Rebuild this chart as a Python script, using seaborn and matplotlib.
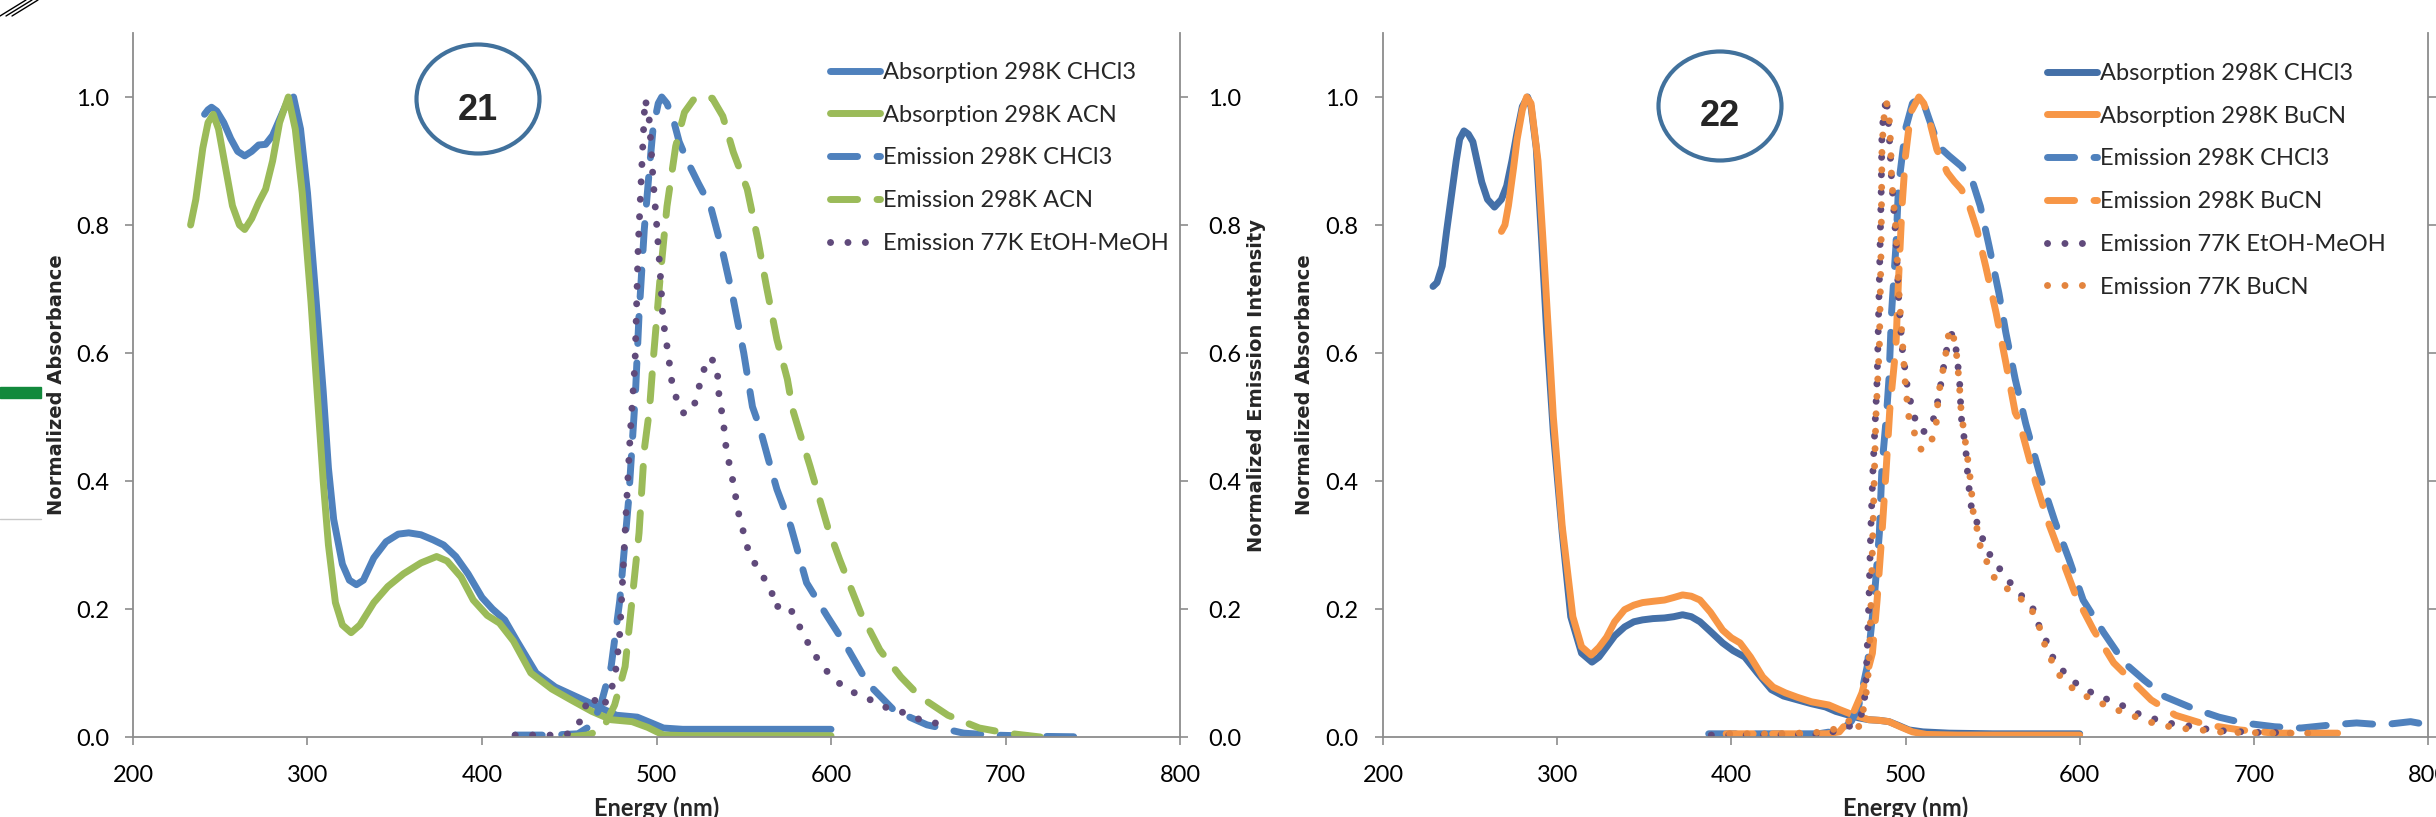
import matplotlib
matplotlib.use("Agg")
import matplotlib.pyplot as plt
import seaborn as sns
from matplotlib.patches import Ellipse, Rectangle
from matplotlib.lines import Line2D
from matplotlib.ticker import FormatStrFormatter

# ---------------- data ----------------
# panel 21
abs_chcl3_21_nm = [241, 243, 245, 248, 252, 256, 260, 264, 268, 272, 276, 280, 284, 288, 292, 296, 300, 305, 309, 312,
                   315, 320, 324, 328, 332, 338, 345, 352, 358, 365, 372, 378, 385, 392, 400, 406, 413, 420, 431, 442,
                   454, 466, 477, 489, 497, 504, 515, 540, 570, 600]
abs_chcl3_21 = [0.973, 0.98, 0.984, 0.978, 0.96, 0.935, 0.915, 0.908, 0.915, 0.925, 0.926, 0.94, 0.965, 0.99, 1.0, 0.95,
                0.85, 0.68, 0.54, 0.42, 0.34, 0.27, 0.245, 0.238, 0.245, 0.28, 0.305, 0.317, 0.319, 0.316, 0.308, 0.30,
                0.282, 0.255, 0.218, 0.20, 0.183, 0.15, 0.10, 0.078, 0.063, 0.048, 0.034, 0.031, 0.022, 0.014, 0.012,
                0.012, 0.012, 0.012]

abs_acn_21_nm = [233, 236, 240, 243, 246, 249, 253, 257, 261, 264, 268, 272, 276, 280, 284, 289, 293, 297, 302, 306,
                 309, 312, 316, 320, 325, 330, 338, 346, 355, 365, 374, 380, 388, 395, 403, 410, 418, 428, 440, 451,
                 463, 474, 486, 495, 504, 520, 560, 600]
abs_acn_21 = [0.80, 0.84, 0.92, 0.96, 0.973, 0.95, 0.89, 0.83, 0.80, 0.793, 0.81, 0.835, 0.856, 0.90, 0.96, 1.0, 0.95,
              0.85, 0.68, 0.52, 0.40, 0.30, 0.21, 0.175, 0.163, 0.175, 0.21, 0.235, 0.255, 0.272, 0.282, 0.275, 0.25,
              0.214, 0.19, 0.178, 0.15, 0.10, 0.075, 0.058, 0.04, 0.027, 0.024, 0.015, 0.003, 0.002, 0.002, 0.002]

em_chcl3_21_nm = [419, 440, 455, 463, 468, 474, 479, 484, 488, 490, 493, 496, 498, 501, 503, 506, 510, 513, 518, 524,
                  531, 538, 544, 550, 555, 559, 564, 569, 577, 586, 598, 609, 621, 636, 655, 676, 693, 720, 750]
em_chcl3_21 = [0.003, 0.003, 0.005, 0.019, 0.05, 0.11, 0.214, 0.37, 0.54, 0.66, 0.793, 0.89, 0.95, 0.99, 1.0, 0.99,
               0.961, 0.93, 0.898, 0.865, 0.829, 0.757, 0.684, 0.60, 0.516, 0.485, 0.435, 0.387, 0.329, 0.241, 0.188,
               0.141, 0.084, 0.042, 0.019, 0.006, 0.003, 0.001, 0.0]

em_acn_21_nm = [448, 460, 469, 476, 482, 486, 490, 493, 496, 498, 502, 506, 511, 516, 521, 523, 528, 532, 538, 544,
                552, 558, 563, 569, 575, 578, 582, 588, 598, 605, 617, 628, 640, 651, 667, 685, 701, 720]
em_acn_21 = [0.0, 0.003, 0.011, 0.05, 0.11, 0.214, 0.319, 0.449, 0.512, 0.585, 0.715, 0.829, 0.923, 0.976, 0.995, 1.0,
             1.0, 0.998, 0.97, 0.914, 0.856, 0.778, 0.704, 0.621, 0.559, 0.512, 0.476, 0.423, 0.329, 0.277, 0.194,
             0.136, 0.094, 0.063, 0.034, 0.014, 0.006, 0.0]

em_77k_21_nm = [419, 430, 440, 450, 457, 461, 464, 467.6, 471, 474.5, 477, 479, 482, 485, 487.7, 489.5, 491.7, 493.4,
                495, 496, 498, 500, 502, 503.7, 506.6, 509, 512, 516, 519, 522, 526.6, 530, 532.5, 534.7, 536, 538,
                540, 544, 547, 552, 555, 560, 566, 568, 572.5, 577.6, 581, 585, 589, 593.7, 599.4, 606, 612.6, 620.6,
                628, 635.5, 643.6, 651, 659.6, 668]
em_77k_21 = [0.003, 0.003, 0.003, 0.005, 0.027, 0.063, 0.06, 0.045, 0.055, 0.078, 0.11, 0.163, 0.32, 0.476, 0.585,
             0.767, 0.898, 0.997, 0.98, 0.961, 0.872, 0.804, 0.731, 0.653, 0.60, 0.551, 0.524, 0.504, 0.51, 0.522,
             0.57, 0.593, 0.588, 0.577, 0.527, 0.50, 0.449, 0.397, 0.35, 0.297, 0.277, 0.256, 0.227, 0.202, 0.208,
             0.196, 0.178, 0.156, 0.136, 0.116, 0.097, 0.081, 0.07, 0.061, 0.05, 0.042, 0.037, 0.027, 0.022, 0.016]

# panel 22
abs_chcl3_22_nm = [228.7, 231, 234, 236.5, 239, 242, 244, 246.5, 249, 251.6, 254, 256.7, 260, 264, 268, 271, 274, 277,
                   280, 283, 285, 288, 291, 294, 297.8, 302.9, 307.8, 314, 320, 324, 328.4, 333, 338.7, 344, 349, 355,
                   361.6, 367, 372, 377, 382, 388, 395, 401, 407.7, 415, 423, 430, 438, 446, 454, 460, 467.6, 473,
                   479, 485, 490.5, 496, 502, 510, 525, 550, 575, 600]
abs_chcl3_22 = [0.704, 0.71, 0.736, 0.79, 0.84, 0.90, 0.934, 0.947, 0.942, 0.93, 0.90, 0.867, 0.84, 0.828, 0.84, 0.861,
                0.90, 0.945, 0.985, 1.0, 0.985, 0.92, 0.78, 0.632, 0.476, 0.319, 0.188, 0.131, 0.117, 0.125, 0.141,
                0.158, 0.172, 0.18, 0.183, 0.185, 0.186, 0.188, 0.191, 0.188, 0.18, 0.165, 0.147, 0.135, 0.125, 0.10,
                0.074, 0.064, 0.058, 0.052, 0.047, 0.04, 0.034, 0.03, 0.027, 0.026, 0.024, 0.018, 0.011, 0.008, 0.006,
                0.005, 0.005, 0.005]

abs_bucn_22_nm = [268, 270, 272, 275, 277, 280, 282.5, 285, 289, 292, 295, 297.8, 302.9, 309, 314, 319.5, 324, 328.4,
                  333, 338.7, 344, 349, 355, 361.6, 367, 372, 377, 382, 388, 395, 400, 405, 411, 418, 424, 431, 438,
                  446, 456, 462, 467.6, 473, 479, 485, 490.5, 497, 504, 512, 530, 560, 600]
abs_bucn_22 = [0.79, 0.80, 0.83, 0.89, 0.934, 0.98, 1.0, 0.99, 0.90, 0.77, 0.632, 0.50, 0.329, 0.188, 0.141, 0.128,
               0.14, 0.156, 0.18, 0.199, 0.206, 0.21, 0.212, 0.214, 0.218, 0.222, 0.22, 0.214, 0.195, 0.167, 0.155,
               0.147, 0.125, 0.094, 0.078, 0.069, 0.062, 0.055, 0.05, 0.043, 0.037, 0.032, 0.027, 0.026, 0.024,
               0.016, 0.008, 0.004, 0.003, 0.003, 0.003]

em_chcl3_22_nm = [387, 420, 450, 463.6, 469, 473, 478, 482, 485, 486.5, 489, 490.5, 492, 494.5, 496, 500, 504, 507.7,
                  510.5, 513.5, 519, 525, 532, 538, 543, 548, 553.6, 557.6, 563, 569, 578.5, 586, 594, 602, 613.8,
                  625.6, 637, 649, 664.8, 680, 694, 712, 727, 745, 759, 774, 790, 800]
em_chcl3_22 = [0.005, 0.005, 0.005, 0.011, 0.025, 0.047, 0.11, 0.214, 0.319, 0.423, 0.50, 0.559, 0.663, 0.767, 0.861,
               0.95, 0.99, 1.0, 0.99, 0.966, 0.923, 0.908, 0.892, 0.872, 0.829, 0.767, 0.694, 0.632, 0.559, 0.49,
               0.397, 0.335, 0.277, 0.214, 0.163, 0.116, 0.089, 0.063, 0.045, 0.031, 0.022, 0.016, 0.014, 0.019,
               0.022, 0.019, 0.024, 0.019]

em_bucn_22_nm = [397, 430, 455, 462, 469, 475, 481, 483.7, 486.5, 489, 491, 494.5, 496, 498, 500, 503, 507.7, 510.5,
                 513.5, 518, 524, 528, 532, 536, 541, 546, 552, 557.6, 563, 565, 574.8, 582, 590, 598, 608, 619.5,
                 629.5, 641, 655, 673, 692, 712, 749]
em_bucn_22 = [0.005, 0.005, 0.005, 0.008, 0.031, 0.069, 0.131, 0.214, 0.319, 0.423, 0.512, 0.61, 0.715, 0.829, 0.908,
              0.976, 1.0, 0.99, 0.966, 0.918, 0.882, 0.868, 0.856, 0.835, 0.793, 0.736, 0.663, 0.585, 0.507, 0.496,
              0.397, 0.335, 0.277, 0.219, 0.167, 0.116, 0.089, 0.058, 0.034, 0.019, 0.011, 0.006, 0.006]

em_77k_22_nm = [388.5, 420, 450, 463.6, 471.6, 475, 477, 478, 479, 480, 481.4, 483, 483.7, 485, 486, 486.5, 489, 490.5,
                492, 494.5, 496, 498, 501, 504, 506, 509.5, 512, 515, 519, 522, 525, 527, 529, 531, 532, 534.6, 536,
                538, 542, 545, 549, 552, 557, 563, 568.7, 573.6, 576.5, 580.5, 584.5, 589, 595, 602, 609, 616.6,
                624.6, 633, 641, 650, 659, 669, 676.5, 685, 694, 704, 715]
em_77k_22 = [0.003, 0.003, 0.004, 0.011, 0.022, 0.037, 0.069, 0.136, 0.214, 0.319, 0.423, 0.516, 0.559, 0.715, 0.845,
             0.95, 1.0, 0.95, 0.872, 0.778, 0.689, 0.61, 0.548, 0.51, 0.493, 0.477, 0.478, 0.485, 0.53, 0.58, 0.626,
             0.63, 0.606, 0.559, 0.50, 0.449, 0.40, 0.355, 0.329, 0.304, 0.282, 0.272, 0.25, 0.233, 0.214, 0.199,
             0.175, 0.152, 0.125, 0.108, 0.089, 0.077, 0.066, 0.058, 0.049, 0.037, 0.03, 0.022, 0.019, 0.014, 0.011,
             0.009, 0.008, 0.007, 0.007]

em_77k_bucn_22_nm = [399, 430, 456, 463.6, 466, 470, 473, 476, 477, 479, 480, 481, 482, 483, 485, 486, 486.5, 488, 489,
                     490.5, 491.5, 492, 494.5, 496, 498, 500, 502, 505, 509, 512, 514.6, 517.5, 519, 521, 522, 524,
                     525, 527, 529, 530, 531, 532, 535, 537.5, 539, 541.5, 543, 547, 551, 557, 564, 570, 575, 578,
                     580.5, 584.5, 589, 595, 602, 610, 617.8, 626, 634, 642, 652, 660.7, 669.7, 679, 688, 698, 707,
                     717, 733]
em_77k_bucn_22 = [0.005, 0.005, 0.008, 0.019, 0.022, 0.03, 0.015, 0.045, 0.058, 0.11, 0.188, 0.293, 0.397, 0.50, 0.61,
                  0.767, 0.923, 0.98, 0.992, 0.976, 0.923, 0.872, 0.793, 0.704, 0.626, 0.548, 0.499, 0.476, 0.449,
                  0.45, 0.46, 0.485, 0.538, 0.562, 0.585, 0.61, 0.637, 0.632, 0.606, 0.579, 0.548, 0.507, 0.449,
                  0.397, 0.347, 0.321, 0.297, 0.272, 0.249, 0.235, 0.219, 0.21, 0.186, 0.163, 0.139, 0.116, 0.094,
                  0.078, 0.066, 0.055, 0.047, 0.037, 0.03, 0.022, 0.016, 0.013, 0.011, 0.008, 0.007, 0.007, 0.006,
                  0.006, 0.006]

x_ticks = [200, 300, 400, 500, 600, 700, 800]
y_ticks = [0.0, 0.2, 0.4, 0.6, 0.8, 1.0]

# ---------------- style ----------------
sns.set_theme(style="white")
plt.rcParams["font.family"] = ["Lato", "DejaVu Sans"]

BLUE = "#4F81BD"
DKBLUE = "#4470A8"
GREEN = "#9BBB59"
PURPLE = "#604A7B"
ORANGE = "#F79646"
DKORANGE = "#E3843E"
GRAY = "#8C8C8C"
LW = 5.0
LS = {"solid": "-", "dash": (0, (3.9, 2.8)), "dot": (0, (0.01, 2.5))}

W, H = 2436, 817
fig = plt.figure(figsize=(W / 100, H / 100), dpi=100)


def px_axes(x0, x1, y0, y1):
    return fig.add_axes([x0 / W, 1 - y1 / H, (x1 - x0) / W, (y1 - y0) / H])


def draw(ax, nm, vals, color, kind, label):
    sns.lineplot(x=nm, y=vals, ax=ax, color=color, linewidth=LW, linestyle=LS[kind], sort=False,
                 estimator=None, label=label, legend=False,
                 solid_capstyle="round", dash_capstyle="round")


def style_axes(ax, ylab_x, left_pad):
    ax.set_xlim(200, 800)
    ax.set_ylim(0, 1.1)
    ax.set_xticks(x_ticks)
    ax.set_yticks(y_ticks)
    ax.yaxis.set_major_formatter(FormatStrFormatter("%.1f"))
    for s in ["top", "right"]:
        ax.spines[s].set_visible(False)
    for s in ["left", "bottom"]:
        ax.spines[s].set_color(GRAY)
        ax.spines[s].set_linewidth(1.3)
    ax.tick_params(axis="x", direction="out", length=6, width=1.2, color=GRAY, labelsize=17, pad=14,
                   bottom=True, labelcolor="black")
    ax.tick_params(axis="y", direction="out", length=6, width=1.2, color=GRAY, labelsize=17, pad=left_pad,
                   left=True, labelcolor="black")
    ax.set_xlabel("Energy (nm)", fontsize=17, fontweight="bold", va="top")
    ax.xaxis.set_label_coords(0.5, -0.085)
    ax.set_ylabel("Normalized Absorbance", fontsize=14, fontweight="bold", family="DejaVu Sans", va="center")
    ax.yaxis.set_label_coords(ylab_x, 0.5)
    ax.grid(False)


def twin_axes(ax, ylabel, ylab_x):
    ax2 = ax.twinx()
    ax2.set_ylim(0, 1.1)
    ax2.set_yticks(y_ticks)
    ax2.yaxis.set_major_formatter(FormatStrFormatter("%.1f"))
    for s in ["top", "left", "bottom"]:
        ax2.spines[s].set_visible(False)
    ax2.spines["right"].set_color(GRAY)
    ax2.spines["right"].set_linewidth(1.3)
    ax2.tick_params(axis="y", direction="out", length=6, width=1.2, color=GRAY, labelsize=17, pad=14,
                    right=True, labelcolor="black")
    if ylabel:
        ax2.set_ylabel(ylabel, fontsize=14, fontweight="bold", family="DejaVu Sans", va="center", rotation=90)
        ax2.yaxis.set_label_coords(ylab_x, 0.5)
    ax2.grid(False)
    return ax2


def legend(ax, x, y):
    ax.legend(handles=ax.get_lines(), labels=[l.get_label() for l in ax.get_lines()],
              loc="upper left", bbox_to_anchor=(x / W, 1 - y / H), bbox_transform=fig.transFigure,
              frameon=False, fontsize=17, borderpad=0, borderaxespad=0, handlelength=2.1,
              handletextpad=0.15, labelspacing=0.92)


def badge(cx, cy, text, ty):
    fig.add_artist(Ellipse((cx / W, 1 - cy / H), 123 / W, 109 / H, transform=fig.transFigure,
                           fill=False, edgecolor="#41719C", linewidth=3.0))
    fig.text(cx / W, 1 - ty / H, text, ha="center", va="center", fontsize=26, fontweight="bold",
             family=["Liberation Sans Narrow", "Liberation Sans"])


# ---------------- panel 21 ----------------
ax = px_axes(133, 1180, 33, 737)
draw(ax, abs_chcl3_21_nm, abs_chcl3_21, BLUE, "solid", "Absorption 298K CHCl3")
draw(ax, abs_acn_21_nm, abs_acn_21, GREEN, "solid", "Absorption 298K ACN")
draw(ax, em_chcl3_21_nm, em_chcl3_21, BLUE, "dash", "Emission 298K CHCl3")
draw(ax, em_acn_21_nm, em_acn_21, GREEN, "dash", "Emission 298K ACN")
draw(ax, em_77k_21_nm, em_77k_21, PURPLE, "dot", "Emission 77K EtOH-MeOH")
style_axes(ax, (57 - 133) / 1047, 11)
twin_axes(ax, "Normalized Emission Intensity", (1257 - 133) / 1047)
legend(ax, 830, 62)
badge(478, 99, "21", 110)

# ---------------- panel 22 ----------------
bx = px_axes(1383, 2428, 33, 737)
draw(bx, abs_chcl3_22_nm, abs_chcl3_22, DKBLUE, "solid", "Absorption 298K CHCl3")
draw(bx, abs_bucn_22_nm, abs_bucn_22, ORANGE, "solid", "Absorption 298K BuCN")
draw(bx, em_chcl3_22_nm, em_chcl3_22, BLUE, "dash", "Emission 298K CHCl3")
draw(bx, em_bucn_22_nm, em_bucn_22, ORANGE, "dash", "Emission 298K BuCN")
draw(bx, em_77k_22_nm, em_77k_22, PURPLE, "dot", "Emission 77K EtOH-MeOH")
draw(bx, em_77k_bucn_22_nm, em_77k_bucn_22, DKORANGE, "dot", "Emission 77K BuCN")
style_axes(bx, (1304 - 1383) / 1045, 12)
twin_axes(bx, None, None)
legend(bx, 2047, 63)
badge(1720, 106, "22", 117)

# ---------------- screenshot leftovers at the left edge ----------------
fig.add_artist(Rectangle((0, 1 - 398 / H), 41 / W, 11 / H, transform=fig.transFigure, color="#12893C"))
fig.add_artist(Line2D([0, 41 / W], [1 - 519 / H, 1 - 519 / H], transform=fig.transFigure, color="#C8C8C8", lw=1))
for dx in (0, 6, 12):
    fig.add_artist(Line2D([dx / W, (dx + 26) / W], [1 - 16 / H, 1.0], transform=fig.transFigure,
                          color="black", lw=1))

fig.savefig("out.png", dpi=100)
